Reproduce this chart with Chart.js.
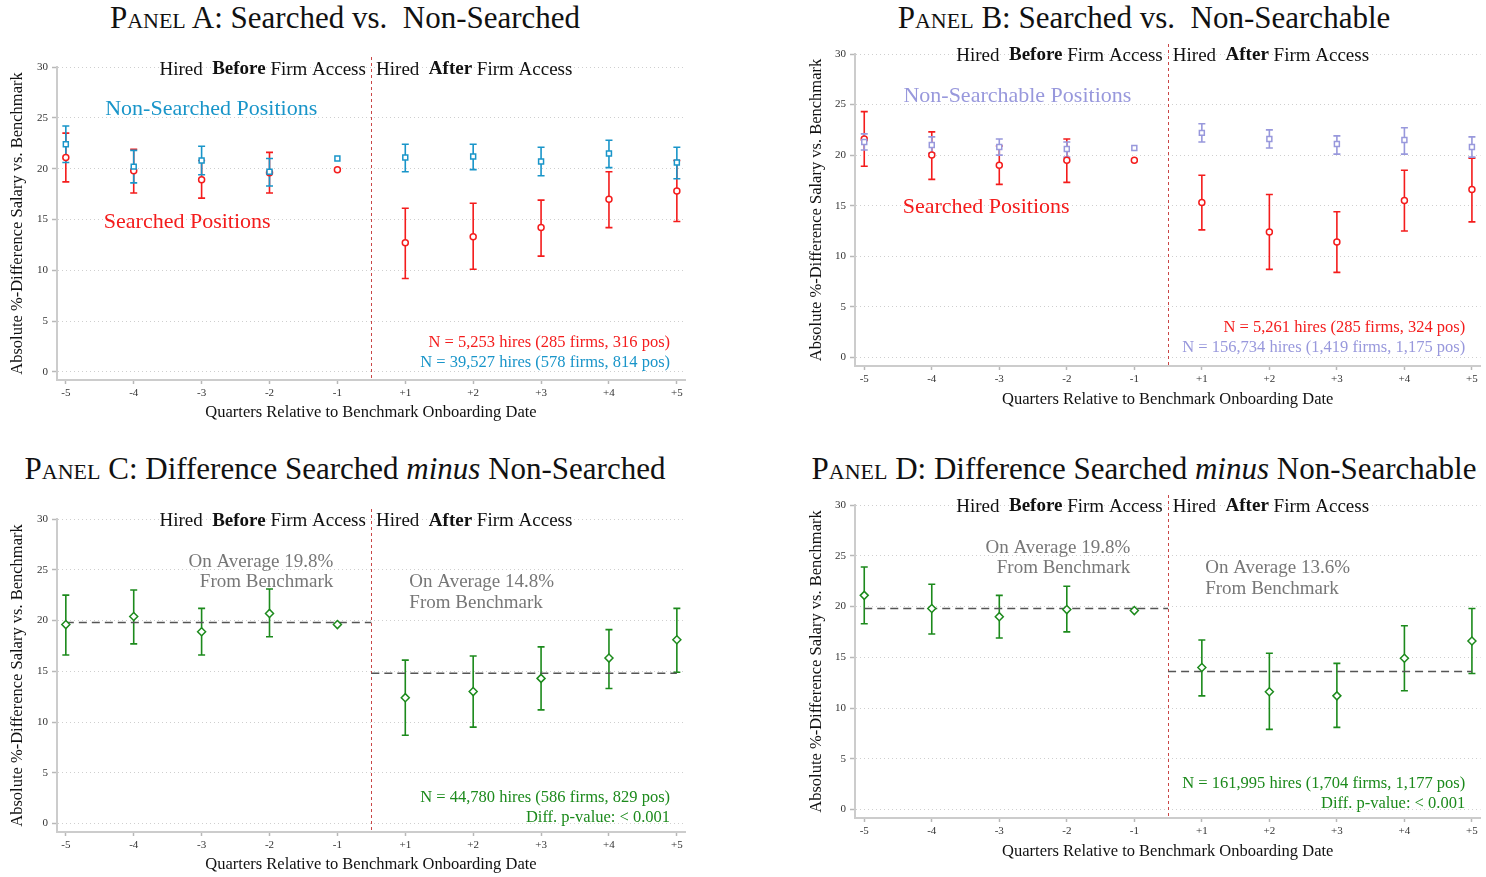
<!DOCTYPE html>
<html>
<head>
<meta charset="utf-8">
<script src="https://cdn.jsdelivr.net/npm/chart.js@4.4.0/dist/chart.umd.min.js"></script>
<style>
  body { margin: 0; background: #fff; width: 1486px; height: 877px; overflow: hidden; position: relative; font-family: "Liberation Serif", serif; }
  canvas { position: absolute; }
  .titulo { position: absolute; width: 742px; text-align: center; font-family: "Liberation Serif", "DejaVu Serif", serif; font-size: 31px; line-height: 30px; color: #111; white-space: nowrap; }
  .sc { font-variant: small-caps; }
</style>
</head>
<body>
<div class="titulo" style="left:-26px;top:3px"><span class="sc">Panel</span> A: Searched vs.&nbsp; Non-Searched</div>
<div class="titulo" style="left:773px;top:3px"><span class="sc">Panel</span> B: Searched vs.&nbsp; Non-Searchable</div>
<div class="titulo" style="left:-26px;top:454px"><span class="sc">Panel</span> C: Difference Searched <i>minus</i> Non-Searched</div>
<div class="titulo" style="left:773px;top:454px"><span class="sc">Panel</span> D: Difference Searched <i>minus</i> Non-Searchable</div>

<canvas id="painelA" width="743" height="438" style="left:0;top:0"></canvas>
<canvas id="painelB" width="743" height="425" style="left:743px;top:0"></canvas>
<canvas id="painelC" width="743" height="437" style="left:0;top:440px"></canvas>
<canvas id="painelD" width="743" height="437" style="left:743px;top:440px"></canvas>

<script>
// Trimestres relativos (sem o zero)
const trimestres = ['-5', '-4', '-3', '-2', '-1', '+1', '+2', '+3', '+4', '+5'];
const ticksY = [0, 5, 10, 15, 20, 25, 30];
const corte = 4.5; // entre -1 e +1

// Painel A
const naoBuscadasA = [22.4, 20.2, 20.8, 19.7, 21.0, 21.1, 21.2, 20.7, 21.5, 20.6];
const naoBuscadasA_baixo = [20.6, 18.6, 19.4, 18.3, null, 19.7, 19.9, 19.3, 20.1, 19.0];
const naoBuscadasA_alto = [24.2, 21.8, 22.2, 21.0, null, 22.4, 22.4, 22.1, 22.8, 22.1];
const buscadasA = [21.1, 19.8, 18.9, 19.6, 19.9, 12.7, 13.3, 14.2, 17.0, 17.8];
const buscadasA_baixo = [18.7, 17.6, 17.1, 17.6, null, 9.2, 10.1, 11.4, 14.2, 14.8];
const buscadasA_alto = [23.5, 21.9, 20.8, 21.6, null, 16.1, 16.6, 16.9, 19.7, 20.8];

// Painel B
const naoBuscaveisB = [21.3, 21.0, 20.8, 20.6, 20.7, 22.2, 21.6, 21.1, 21.5, 20.8];
const naoBuscaveisB_baixo = [20.5, 20.2, 20.0, 19.8, null, 21.3, 20.7, 20.1, 20.1, 19.8];
const naoBuscaveisB_alto = [22.1, 21.8, 21.6, 21.3, null, 23.1, 22.5, 21.9, 22.7, 21.8];
const buscadasB = [21.6, 20.0, 19.0, 19.5, 19.5, 15.3, 12.4, 11.4, 15.5, 16.6];
const buscadasB_baixo = [18.9, 17.6, 17.1, 17.3, null, 12.6, 8.7, 8.4, 12.5, 13.4];
const buscadasB_alto = [24.3, 22.3, 20.9, 21.6, null, 18.0, 16.1, 14.4, 18.5, 19.7];

// Painel C
const difC = [19.6, 20.4, 18.9, 20.7, 19.6, 12.4, 13.0, 14.3, 16.3, 18.1];
const difC_baixo = [16.6, 17.7, 16.6, 18.4, null, 8.7, 9.5, 11.2, 13.3, 14.9];
const difC_alto = [22.5, 23.0, 21.2, 23.1, null, 16.1, 16.5, 17.4, 19.1, 21.2];
const mediasC = [19.8, 14.8];

// Painel D
const difD = [21.1, 19.8, 19.0, 19.7, 19.6, 14.0, 11.6, 11.2, 14.9, 16.6];
const difD_baixo = [18.3, 17.3, 16.9, 17.5, null, 11.2, 7.9, 8.1, 11.7, 13.4];
const difD_alto = [23.9, 22.2, 21.1, 22.0, null, 16.7, 15.4, 14.4, 18.1, 19.8];
const mediasD = [19.8, 13.6];

const AZUL = '#1995c9';
const VERMELHO = '#f41c1c';
const LILAS = '#9898dc';
const VERDE = '#1c8a1c';
const CINZA = '#777777';
const FONTE = '"Liberation Serif", serif';

const pontos = arr => arr.map((v, i) => ({ x: i, y: v }));

function serie(valores, baixo, alto, cor, estilo, raio) {
  return {
    type: 'scatter',
    data: pontos(valores),
    erroBaixo: baixo,
    erroAlto: alto,
    borderColor: cor,
    backgroundColor: '#fff',
    pointStyle: estilo,
    pointRadius: raio,
    pointBorderWidth: 1.5
  };
}

function linhaMedia(medias) {
  return [
    { type: 'line', data: [{ x: 0, y: medias[0] }, { x: corte, y: medias[0] }] },
    { type: 'line', data: [{ x: corte, y: medias[1] }, { x: 9, y: medias[1] }] }
  ].map(d => Object.assign(d, {
    borderColor: '#555', borderWidth: 1.5, borderDash: [8, 5], pointRadius: 0, fill: false
  }));
}

// barras de erro desenhadas com as escalas do grafico
const pluginErro = {
  id: 'barrasErro',
  beforeDatasetsDraw(chart) {
    const { ctx, scales: { x, y } } = chart;
    const lista = chart.data.datasets.slice().reverse();
    lista.forEach(ds => {
      if (!ds.erroBaixo) return;
      ctx.save();
      ctx.strokeStyle = ds.borderColor;
      ctx.lineWidth = 1.6;
      ds.data.forEach((p, j) => {
        const lo = ds.erroBaixo[j], hi = ds.erroAlto[j];
        if (lo == null || hi == null) return;
        const px = x.getPixelForValue(p.x);
        const y1 = y.getPixelForValue(lo), y2 = y.getPixelForValue(hi);
        ctx.beginPath();
        ctx.moveTo(px, y1); ctx.lineTo(px, y2);
        ctx.moveTo(px - 3.5, y1); ctx.lineTo(px + 3.5, y1);
        ctx.moveTo(px - 3.5, y2); ctx.lineTo(px + 3.5, y2);
        ctx.stroke();
      });
      ctx.restore();
    });
  }
};

// linha vertical tracejada no corte
const pluginCorte = {
  id: 'linhaCorte',
  beforeDatasetsDraw(chart) {
    const { ctx, chartArea, scales: { x } } = chart;
    const px = Math.round(x.getPixelForValue(corte)) + 0.5;
    ctx.save();
    ctx.strokeStyle = '#c94646';
    ctx.lineWidth = 1;
    ctx.setLineDash([3, 3]);
    ctx.beginPath();
    ctx.moveTo(px, chartArea.top - 10);
    ctx.lineTo(px, chartArea.bottom);
    ctx.stroke();
    ctx.restore();
  }
};

// textos com partes em negrito
function pluginTextos(itens) {
  return {
    id: 'textos',
    afterDraw(chart) {
      const { ctx, scales: { x, y } } = chart;
      itens.forEach(it => {
        const partes = it.partes || [{ t: it.texto }];
        const fonte = b => `${b ? 'bold ' : ''}${it.tam}px ${FONTE}`;
        ctx.save();
        ctx.fillStyle = it.cor;
        ctx.textBaseline = 'middle';
        ctx.textAlign = 'left';
        let total = 0;
        partes.forEach(p => { ctx.font = fonte(p.b); total += ctx.measureText(p.t).width; });
        let px = x.getPixelForValue(it.x);
        if (it.alinha === 'right') px -= total;
        const py = y.getPixelForValue(it.y);
        partes.forEach(p => {
          ctx.font = fonte(p.b);
          ctx.fillText(p.t, px, py);
          px += ctx.measureText(p.t).width;
        });
        ctx.restore();
      });
    }
  };
}

function textosContratacao(yv) {
  return [
    { x: 4.42, y: yv, tam: 19, cor: '#111', alinha: 'right',
      partes: [{ t: 'Hired  ' }, { t: 'Before', b: true }, { t: ' Firm Access' }] },
    { x: 4.57, y: yv, tam: 19, cor: '#111',
      partes: [{ t: 'Hired  ' }, { t: 'After', b: true }, { t: ' Firm Access' }] }
  ];
}

function criarPainel(id, cfg) {
  const fonteEixo = { family: FONTE, size: 11 };
  const fonteTitulo = { family: FONTE, size: 16.5 };
  return new Chart(document.getElementById(id), {
    type: 'scatter',
    data: { datasets: cfg.datasets },
    options: {
      responsive: false,
      animation: false,
      devicePixelRatio: 1,
      layout: { padding: cfg.padding },
      plugins: { legend: { display: false }, tooltip: { enabled: false } },
      scales: {
        x: {
          type: 'linear',
          min: cfg.xMin,
          max: cfg.xMax,
          afterBuildTicks: s => { s.ticks = trimestres.map((t, i) => ({ value: i })); },
          afterFit: s => { s.height = cfg.alturaX; },
          grid: { drawOnChartArea: false, drawTicks: true, tickLength: 4, tickColor: '#b8b8b8', tickWidth: 1.5, tickBorderDash: [] },
          border: { color: '#cccccc', width: 2 },
          ticks: { callback: v => trimestres[v], font: fonteEixo, color: '#333', padding: 3, autoSkip: false, maxRotation: 0 },
          title: { display: true, text: 'Quarters Relative to Benchmark Onboarding Date', font: fonteTitulo, color: '#111', padding: { top: 0, bottom: cfg.padTituloX } }
        },
        y: {
          type: 'linear',
          min: cfg.yMin,
          max: 30,
          afterBuildTicks: s => { s.ticks = ticksY.map(v => ({ value: v })); },
          afterFit: s => { s.width = 57; },
          grid: { color: '#cfcfcf', lineWidth: 1, tickLength: 5, tickColor: '#b8b8b8', tickWidth: 1.5, tickBorderDash: [] },
          border: { color: '#cccccc', width: 2, dash: [1, 3] },
          ticks: { font: fonteEixo, color: '#333', padding: 4 },
          title: { display: true, text: 'Absolute %-Difference Salary vs. Benchmark', font: fonteTitulo, color: '#111', padding: { top: cfg.padTituloY, bottom: 0 } }
        }
      }
    },
    plugins: [pluginCorte, pluginErro, pluginTextos(cfg.textos)]
  });
}

criarPainel('painelA', {
  padding: { left: 0, top: 67, right: 58, bottom: 0 },
  alturaX: 58, padTituloX: 15, padTituloY: 8,
  xMin: -0.13, xMax: 9.12, yMin: -0.79,
  datasets: [
    serie(naoBuscadasA, naoBuscadasA_baixo, naoBuscadasA_alto, AZUL, 'rect', 3.5),
    serie(buscadasA, buscadasA_baixo, buscadasA_alto, VERMELHO, 'circle', 3)
  ],
  textos: textosContratacao(29.75).concat([
    { x: 0.58, y: 25.8, tam: 22, cor: AZUL, texto: 'Non-Searched Positions' },
    { x: 0.56, y: 14.75, tam: 22, cor: VERMELHO, texto: 'Searched Positions' },
    { x: 8.9, y: 2.85, tam: 16.5, cor: VERMELHO, alinha: 'right', texto: 'N = 5,253 hires (285 firms, 316 pos)' },
    { x: 8.9, y: 0.9, tam: 16.5, cor: AZUL, alinha: 'right', texto: 'N = 39,527 hires (578 firms, 814 pos)' }
  ])
});

criarPainel('painelB', {
  padding: { left: 55, top: 54, right: 2, bottom: 0 },
  alturaX: 59, padTituloX: 15, padTituloY: 9,
  xMin: -0.137, xMax: 9.127, yMin: -0.86,
  datasets: [
    serie(naoBuscaveisB, naoBuscaveisB_baixo, naoBuscaveisB_alto, LILAS, 'rect', 3.5),
    serie(buscadasB, buscadasB_baixo, buscadasB_alto, VERMELHO, 'circle', 3)
  ],
  textos: textosContratacao(29.85).concat([
    { x: 0.58, y: 25.8, tam: 22, cor: LILAS, texto: 'Non-Searchable Positions' },
    { x: 0.57, y: 14.8, tam: 22, cor: VERMELHO, texto: 'Searched Positions' },
    { x: 8.9, y: 2.9, tam: 16.5, cor: VERMELHO, alinha: 'right', texto: 'N = 5,261 hires (285 firms, 324 pos)' },
    { x: 8.9, y: 0.92, tam: 16.5, cor: LILAS, alinha: 'right', texto: 'N = 156,734 hires (1,419 firms, 1,175 pos)' }
  ])
});

criarPainel('painelC', {
  padding: { left: 0, top: 79, right: 58, bottom: 0 },
  alturaX: 45, padTituloX: 2, padTituloY: 8,
  xMin: -0.13, xMax: 9.12, yMin: -0.83,
  datasets: [serie(difC, difC_baixo, difC_alto, VERDE, 'rectRot', 4)].concat(linhaMedia(mediasC)),
  textos: textosContratacao(29.8).concat([
    { x: 3.94, y: 25.8, tam: 19, cor: CINZA, alinha: 'right', texto: 'On Average 19.8%' },
    { x: 3.94, y: 23.8, tam: 19, cor: CINZA, alinha: 'right', texto: 'From Benchmark' },
    { x: 5.06, y: 23.8, tam: 19, cor: CINZA, texto: 'On Average 14.8%' },
    { x: 5.06, y: 21.75, tam: 19, cor: CINZA, texto: 'From Benchmark' },
    { x: 8.9, y: 2.6, tam: 16.5, cor: VERDE, alinha: 'right', texto: 'N = 44,780 hires (586 firms, 829 pos)' },
    { x: 8.9, y: 0.62, tam: 16.5, cor: VERDE, alinha: 'right', texto: 'Diff. p-value: < 0.001' }
  ])
});

criarPainel('painelD', {
  padding: { left: 55, top: 65, right: 2, bottom: 0 },
  alturaX: 59, padTituloX: 15, padTituloY: 9,
  xMin: -0.137, xMax: 9.127, yMin: -0.83,
  datasets: [serie(difD, difD_baixo, difD_alto, VERDE, 'rectRot', 4)].concat(linhaMedia(mediasD)),
  textos: textosContratacao(29.85).concat([
    { x: 3.94, y: 25.8, tam: 19, cor: CINZA, alinha: 'right', texto: 'On Average 19.8%' },
    { x: 3.94, y: 23.8, tam: 19, cor: CINZA, alinha: 'right', texto: 'From Benchmark' },
    { x: 5.05, y: 23.8, tam: 19, cor: CINZA, texto: 'On Average 13.6%' },
    { x: 5.05, y: 21.7, tam: 19, cor: CINZA, texto: 'From Benchmark' },
    { x: 8.9, y: 2.6, tam: 16.5, cor: VERDE, alinha: 'right', texto: 'N = 161,995 hires (1,704 firms, 1,177 pos)' },
    { x: 8.9, y: 0.62, tam: 16.5, cor: VERDE, alinha: 'right', texto: 'Diff. p-value: < 0.001' }
  ])
});
</script>
</body>
</html>
